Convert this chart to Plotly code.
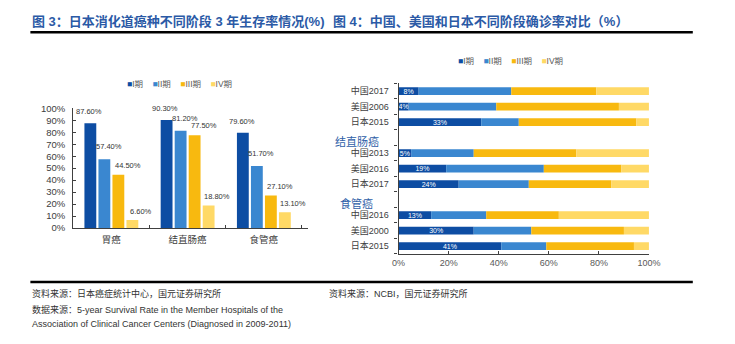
import plotly.graph_objects as go

W, H = 735, 344

# ---------------- data ----------------
# Figure 3: 3-year survival (%) by stage, Japan
cancers = ["胃癌", "结直肠癌", "食管癌"]
stages = ["I期", "II期", "III期", "IV期"]
surv_I = [87.6, 90.3, 79.6]
surv_II = [57.4, 81.2, 51.7]
surv_III = [44.5, 77.5, 27.1]
surv_IV = [6.6, 18.8, 13.1]

# Figure 4: stage distribution at diagnosis (%)
rows = ["中国2017", "美国2006", "日本2015", "",
        "中国2013", "美国2016", "日本2017", "",
        "中国2016", "美国2000", "日本2015"]
diag_I = [8, 4, 33, None, 5, 19, 24, None, 13, 30, 41]
diag_II = [37, 35, 15, None, 25, 39, 28, None, 22, 23, 18]
diag_III = [34, 49, 47, None, 41, 31, 33, None, 29, 37, 35]
diag_IV = [21, 12, 5, None, 29, 11, 15, None, 36, 10, 6]
group_names = ["胃癌", "结直肠癌", "食管癌"]

title_left = "图 3：日本消化道癌种不同阶段 3 年生存率情况(%)"
title_right = "图 4：中国、美国和日本不同阶段确诊率对比（%）"
src_left1 = "资料来源：日本癌症统计中心，国元证券研究所"
src_left2 = "数据来源：5-year Survival Rate in the Member Hospitals of the"
src_left3 = "Association of Clinical Cancer Centers (Diagnosed in 2009-2011)"
src_right = "资料来源：NCBI，国元证券研究所"

# ---------------- style ----------------
colors = ["#0D4DA3", "#3A87D0", "#F8B90F", "#FFD966"]
FONT = "Liberation Sans, Arial, Noto Sans CJK SC, sans-serif"
TXT = "#404040"
TITLE_BLUE = "#2B5AA6"
AX = "#404040"

L_X0, L_X1, L_Y0, L_Y1 = 68, 309, 229.3, 105.7   # left plot px box
R_X0, R_X1, R_Y0, R_Y1 = 402, 659, 256, 80       # right plot px box
BARGAP, BARGROUPGAP = 0.265, 0.155

def px(x):
    return x / W

def py(y):
    return 1 - y / H

fig = go.Figure()

# left grouped bars
surv = [surv_I, surv_II, surv_III, surv_IV]
for name, vals, c in zip(stages, surv, colors):
    fig.add_trace(go.Bar(x=cancers, y=vals, name=name, marker_color=c,
                         marker_line_width=0, xaxis="x", yaxis="y",
                         showlegend=False, hoverinfo="x+y+name"))

# right stacked horizontal bars
diag = [diag_I, diag_II, diag_III, diag_IV]
n = len(rows)
base = [0] * n
for k, (name, vals, c) in enumerate(zip(stages, diag, colors)):
    txt = [f"{v}%" if (k == 0 and v is not None) else "" for v in vals]
    fig.add_trace(go.Bar(
        y=list(range(n)), x=vals, base=[b if v is not None else None for b, v in zip(base, vals)],
        orientation="h", width=0.5, offset=-0.25, name=name, marker_color=c,
        marker_line_width=0, xaxis="x2", yaxis="y2", showlegend=False,
        text=txt, textposition="inside", insidetextanchor="middle", textangle=0,
        textfont=dict(color="white", size=7, family=FONT)))
    base = [b + (v or 0) for b, v in zip(base, vals)]

annotations = []

# value labels for left bars
catw = (L_X1 - L_X0) / len(cancers)
slot = catw * (1 - BARGAP) / len(stages)
label_dx = [0, 5, 9, 7]
label_dy = [11.5, 12.5, 9.5, 9.0]
for i, vals in enumerate(surv):
    for cat, v in zip(cancers, vals):
        annotations.append(dict(
            x=cat, y=v, xref="x", yref="y", text=f"{v:.2f}%", showarrow=False,
            xshift=(i - 1.5) * slot + label_dx[i], yshift=label_dy[i], yanchor="middle",
            font=dict(size=7.5, color="#333333", family=FONT)))

# group headers on the right chart
header_pos = [-1.2, 3.25, 7.25]
for g, yp in zip(group_names, header_pos):
    annotations.append(dict(
        x=px(359), y=yp, xref="paper", yref="y2", text=g, showarrow=False,
        xanchor="center", yanchor="middle",
        font=dict(size=11, color="#2F5FA8", family=FONT)))

# legends (as text with coloured squares)
def legend_text():
    parts = []
    for name, c in zip(stages, colors):
        parts.append(f"<span style='color:{c}'>■</span>{name}")
    return "\u00a0\u00a0\u00a0\u00a0".join(parts)

annotations.append(dict(x=px(121), y=py(81), xref="paper", yref="paper",
                        text=legend_text(), showarrow=False, xanchor="left",
                        yanchor="middle", font=dict(size=8.5, color="#595959", family=FONT)))
annotations.append(dict(x=px(461), y=py(57), xref="paper", yref="paper",
                        text=legend_text(), showarrow=False, xanchor="left",
                        yanchor="middle", font=dict(size=8.5, color="#595959", family=FONT)))

# titles
annotations.append(dict(x=px(24), y=py(16.5), xref="paper", yref="paper",
                        text=f"<b>{title_left}</b>", showarrow=False, xanchor="left",
                        yanchor="middle", font=dict(size=13, color=TITLE_BLUE, family=FONT)))
annotations.append(dict(x=px(333), y=py(16.5), xref="paper", yref="paper",
                        text=f"<b>{title_right}</b>", showarrow=False, xanchor="left",
                        yanchor="middle", font=dict(size=13, color=TITLE_BLUE, family=FONT)))

# sources
for t, x, y in [(src_left1, 24, 297), (src_left2, 24, 314), (src_left3, 24, 329),
                (src_right, 328, 297)]:
    annotations.append(dict(x=px(x), y=py(y), xref="paper", yref="paper", text=t,
                            showarrow=False, xanchor="left", yanchor="middle",
                            font=dict(size=9, color="#333333", family=FONT)))

shapes = [
    dict(type="line", xref="paper", yref="paper", x0=px(24), x1=px(704),
         y0=py(27), y1=py(27), line=dict(color="black", width=2.5)),
    dict(type="line", xref="paper", yref="paper", x0=px(24), x1=px(704),
         y0=py(285), y1=py(285), line=dict(color="black", width=2.5)),
]

fig.update_layout(
    width=W, height=H, margin=dict(l=0, r=0, t=0, b=0),
    paper_bgcolor="white", plot_bgcolor="white",
    font=dict(family=FONT, color=TXT),
    barmode="group", bargap=BARGAP, bargroupgap=BARGROUPGAP,
    uniformtext=dict(minsize=7, mode="show"),
    annotations=annotations, shapes=shapes,
    xaxis=dict(domain=[px(L_X0), px(L_X1)], type="category", anchor="y",
               showline=True, linecolor=AX, linewidth=1.3, ticks="inside",
               tickson="boundaries", ticklen=3, tickcolor=AX, showgrid=False,
               tickfont=dict(size=9.5, color=TXT), ticklabelstandoff=2),
    yaxis=dict(domain=[py(L_Y0), py(L_Y1)], range=[0, 100], dtick=10, anchor="x",
               ticksuffix="%", showline=True, linecolor=AX, linewidth=1.3,
               ticks="inside", ticklen=3, tickcolor=AX, showgrid=False,
               zeroline=False, tickfont=dict(size=9.5, color=TXT),
               ticklabelstandoff=5),
    xaxis2=dict(domain=[px(R_X0), px(R_X1)], range=[0, 100], dtick=20, anchor="y2",
                ticksuffix="%", showline=True, linecolor=AX, linewidth=1.3,
                ticks="inside", ticklen=3, tickcolor=AX, showgrid=False,
                zeroline=False, tickfont=dict(size=9, color="#595959")),
    yaxis2=dict(domain=[py(R_Y0), py(R_Y1)], range=[n - 0.5, -0.5], anchor="x2",
                tickvals=list(range(n)), ticktext=rows, ticks="",
                showline=True, linecolor=AX, linewidth=1.3, showgrid=False,
                zeroline=False, tickfont=dict(size=9, color=TXT),
                ticklabelstandoff=7,
                minor=dict(tick0=0.5, dtick=1, ticks="outside", ticklen=3,
                           tickcolor=AX, showgrid=False)),
)

fig.write_html("out.html")
